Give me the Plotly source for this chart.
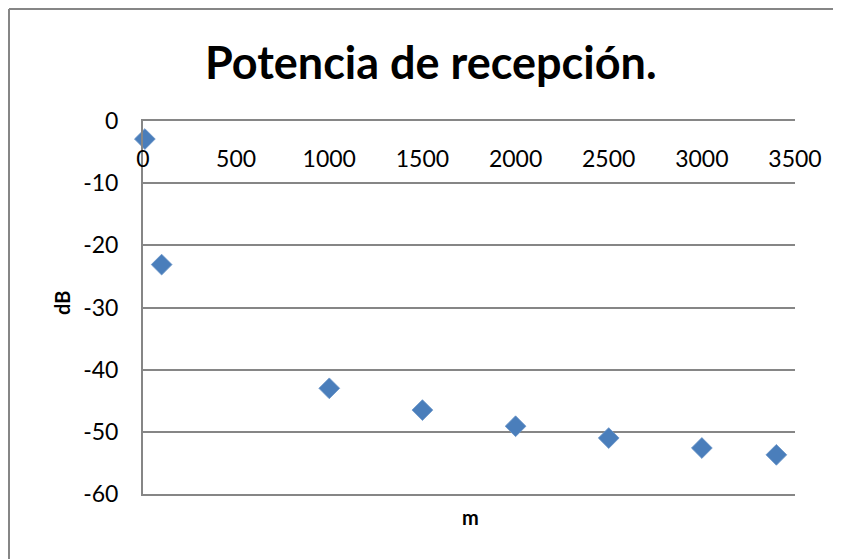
import plotly.graph_objects as go

distance_m = [10, 100, 1000, 1500, 2000, 2500, 3000, 3400]
power_db = [-2.9, -23.1, -43.0, -46.5, -49.1, -51.0, -52.6, -53.7]
x_ticks = [0, 500, 1000, 1500, 2000, 2500, 3000, 3500]
y_ticks = [0, -10, -20, -30, -40, -50, -60]
y_tick_text = ["0", "-10", "-20", "-30", "-40", "-50", "-60"]

W, H = 841, 559
OFF = 8  # page body margin
# target plot area in screenshot pixels
PX0, PX1, PY0, PY1 = 143, 795, 121, 494
L = PX0 - OFF
T = PY0 - OFF
R = W + OFF - PX1
B = H + OFF - PY1
pw, ph = PX1 - PX0, PY1 - PY0

def px2paper_x(px):
    return (px - PX0) / pw

def px2paper_y(py):
    return (PY1 - py) / ph

FONT = "Lato"

fig = go.Figure()
fig.add_trace(go.Scatter(
    x=distance_m, y=power_db, mode="markers",
    marker=dict(symbol="diamond", size=16, color="#4a7ebb",
                line=dict(color="#6a94c8", width=0.8)),
    showlegend=False, cliponaxis=False,
))

fig.update_layout(
    width=W, height=H,
    margin=dict(l=L, r=R, t=T, b=B),
    paper_bgcolor="white", plot_bgcolor="white",
    xaxis=dict(range=[0, 3500], tickvals=x_ticks, side="top",
               ticklabelposition="inside", ticklabelstandoff=32,
               ticklabeloverflow="allow",
               showgrid=False, zeroline=False,
               showline=True, mirror=True, linecolor="#868686", linewidth=2,
               ticks="", tickfont=dict(family=FONT, size=23, color="black")),
    yaxis=dict(range=[-60, 0], tickvals=y_ticks, ticktext=y_tick_text,
               showgrid=True, gridcolor="#868686", gridwidth=2,
               zeroline=False, showline=True, linecolor="#868686", linewidth=2,
               ticks="", ticklabelstandoff=18, ticklabeloverflow="allow",
               tickfont=dict(family=FONT, size=23, color="black")),
    annotations=[
        dict(text="<b>Potencia de recepción.</b>", xref="paper", yref="paper",
             x=px2paper_x(431), y=px2paper_y(62), showarrow=False,
             xanchor="center", yanchor="middle",
             font=dict(family=FONT, size=45, color="black")),
        dict(text="<b>m</b>", xref="paper", yref="paper",
             x=px2paper_x(470), y=px2paper_y(517), showarrow=False,
             xanchor="center", yanchor="middle",
             font=dict(family=FONT, size=20, color="black")),
        dict(text="<b>dB</b>", xref="paper", yref="paper",
             x=px2paper_x(62), y=px2paper_y(303), showarrow=False,
             xanchor="center", yanchor="middle", textangle=-90,
             font=dict(family=FONT, size=20, color="black")),
    ],
    shapes=[
        dict(type="line", xref="paper", yref="paper",
             x0=px2paper_x(OFF + 1), x1=px2paper_x(860),
             y0=px2paper_y(OFF + 1), y1=px2paper_y(OFF + 1),
             line=dict(color="#868686", width=2)),
        dict(type="line", xref="paper", yref="paper",
             x0=px2paper_x(OFF + 1), x1=px2paper_x(OFF + 1),
             y0=px2paper_y(OFF + 1), y1=px2paper_y(580),
             line=dict(color="#868686", width=2)),
    ],
)

fig.write_html("out.html")
